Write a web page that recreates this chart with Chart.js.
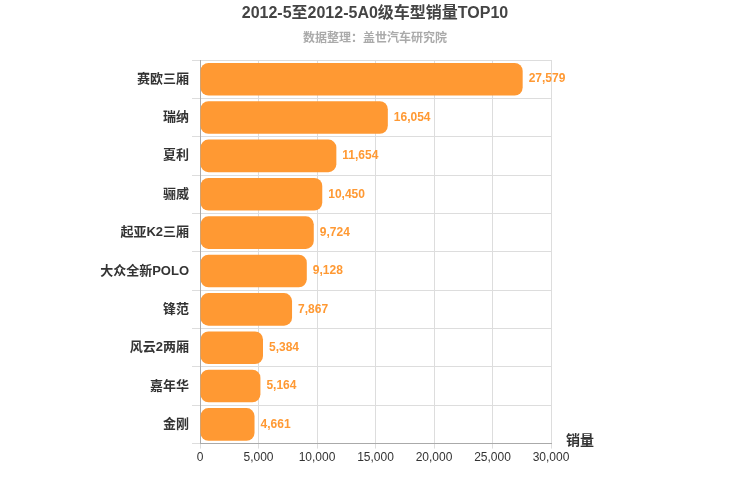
<!DOCTYPE html>
<html><head><meta charset="utf-8">
<script src="https://cdn.jsdelivr.net/npm/chart.js@4"></script>
<style>body{margin:0;background:#fff}#wrap{width:750px;height:500px}</style>
</head><body><div id="wrap"><canvas id="c"></canvas></div>
<script>
const categories = ['赛欧三厢','瑞纳','夏利','骊威','起亚K2三厢','大众全新POLO','锋范','风云2两厢','嘉年华','金刚'];
const sales = [27579,16054,11654,10450,9724,9128,7867,5384,5164,4661];
const xTicks = [0,5000,10000,15000,20000,25000,30000];

const font = '"Helvetica Neue", Arial, "Noto Sans CJK SC", sans-serif';
Chart.defaults.font.family = font;

// titles, value labels + axis name
const extras = {
  id: 'extras',
  afterDatasetsDraw(chart) {
    const ctx = chart.ctx;
    const meta = chart.getDatasetMeta(0);
    ctx.save();
    ctx.textAlign = 'center';
    ctx.textBaseline = 'middle';
    ctx.fillStyle = '#444';
    ctx.font = 'bold 16px ' + font;
    ctx.fillText('2012-5至2012-5A0级车型销量TOP10', 375, 14);
    ctx.fillStyle = '#aaa';
    ctx.font = 'bold 12px ' + font;
    ctx.fillText('数据整理：盖世汽车研究院', 375, 39);
    ctx.textAlign = 'left';
    ctx.font = 'bold 12px ' + font;
    ctx.fillStyle = '#FF9933';
    meta.data.forEach((bar, i) => {
      ctx.fillText(sales[i].toLocaleString('en-US'), bar.x + 6, bar.y);
    });
    ctx.fillStyle = '#333';
    ctx.font = 'bold 14px ' + font;
    ctx.fillText('销量', chart.chartArea.right + 15, chart.chartArea.bottom - 2);
    ctx.restore();
  }
};

new Chart(document.getElementById('c'), {
  type: 'bar',
  data: {
    labels: categories,
    datasets: [{
      data: sales,
      backgroundColor: '#FF9933',
      borderRadius: 8,
      borderSkipped: false,
      barPercentage: 0.85,
      categoryPercentage: 1
    }]
  },
  options: {
    indexAxis: 'y',
    responsive: true,
    maintainAspectRatio: false,
    animation: false,
    layout: { padding: { top: 60, right: 199, bottom: 33, left: 0 } },
    plugins: {
      legend: { display: false },
      tooltip: { enabled: false }
    },
    scales: {
      x: {
        min: 0, max: 30000,
        afterBuildTicks: (s) => { s.ticks = xTicks.map(v => ({ value: v })); },
        ticks: { color: '#333', font: { size: 12 }, padding: 2, callback: v => v.toLocaleString('en-US') },
        grid: { color: '#ddd', tickLength: 5 },
        border: { color: '#aaa' }
      },
      y: {
        ticks: { color: '#333', font: { size: 13, weight: 'bold' } },
        grid: { color: '#ddd', offset: true },
        border: { color: '#aaa' },
        afterFit: (s) => { s.width = 200; }
      }
    }
  },
  plugins: [extras]
});
</script></body></html>
